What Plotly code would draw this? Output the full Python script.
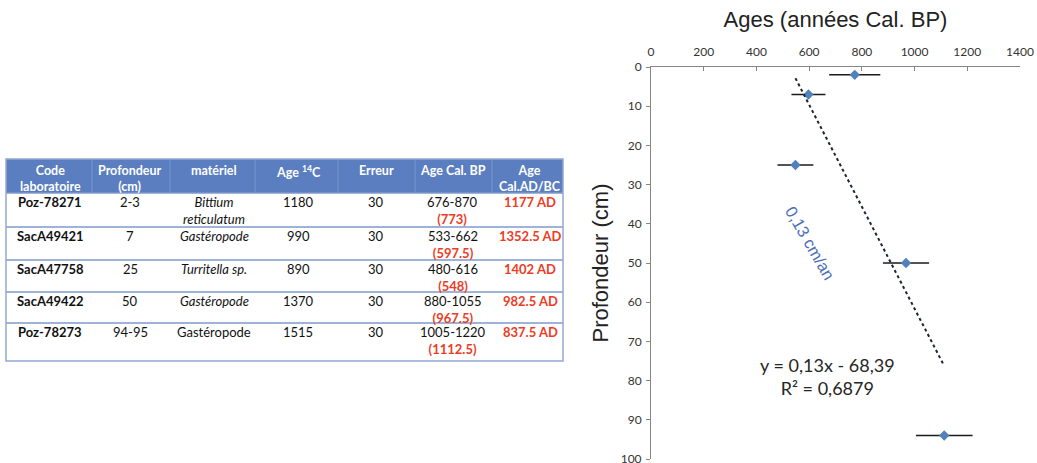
import numpy as np
import plotly.graph_objects as go

# ---------------- data ----------------
codes = ["Poz-78271", "SacA49421", "SacA47758", "SacA49422", "Poz-78273"]
profondeur_label = ["2-3", "7", "25", "50", "94-95"]
depth = [2, 7, 25, 50, 94]
materiel = ["Bittium<br>reticulatum", "Gastéropode", "Turritella sp.", "Gastéropode", "Gastéropode"]
materiel_italic = [True, True, True, True, False]
age14c = [1180, 990, 890, 1370, 1515]
erreur = [30, 30, 30, 30, 30]
cal_min = [676, 533, 480, 880, 1005]
cal_max = [870, 662, 616, 1055, 1220]
cal_mid = [773, 597.5, 548, 967.5, 1112.5]
cal_mid_label = ["773", "597.5", "548", "967.5", "1112.5"]
age_ad = ["1177 AD", "1352.5 AD", "1402 AD", "982.5 AD", "837.5 AD"]
headers = ["Code<br>laboratoire", "Profondeur<br>(cm)", "matériel", "Age <sup>14</sup>C",
           "Erreur", "Age Cal. BP", "Age<br>Cal.AD/BC"]

RED = "#EE3B24"
BLUE = "#4F81BD"
W, H = 1037, 463

# ---------------- table layout (pixels) ----------------
tbl_left, tbl_right = 6, 563
row_edges = [159, 193, 227, 260, 292, 323, 361]     # header + 5 rows
col_edges = [6, 92, 170, 255, 338, 415, 492, 563]
col_centers = [50, 130, 214, 298, 376, 453, 530]

X = lambda p: p / W
Y = lambda p: 1 - p / H

fig = go.Figure()

# ---------------- scatter with error bars ----------------
fig.add_trace(go.Scatter(
    x=cal_mid, y=depth, mode="markers",
    marker=dict(symbol="diamond", size=8, color=BLUE),
    error_x=dict(type="data", symmetric=False,
                 array=[b - m for b, m in zip(cal_max, cal_mid)],
                 arrayminus=[m - a for a, m in zip(cal_min, cal_mid)],
                 color="#1a1a1a", thickness=1.5, width=0),
    showlegend=False, hoverinfo="x+y",
))

# linear trendline (depth vs age)
slope, intercept = np.polyfit(cal_mid, depth, 1)
r2 = np.corrcoef(cal_mid, depth)[0, 1] ** 2
tx = np.array([min(cal_mid), max(cal_mid)])
fig.add_trace(go.Scatter(
    x=tx, y=slope * tx + intercept, mode="lines",
    line=dict(color="#1c2333", width=2, dash="dot"),
    showlegend=False, hoverinfo="skip",
))

# ---------------- table built from the lists ----------------
shapes = []
annotations = []
FONT_T = "Lato, Open Sans, sans-serif"

# header background
shapes.append(dict(type="rect", xref="paper", yref="paper", layer="below",
                   x0=X(tbl_left), x1=X(tbl_right), y0=Y(row_edges[1]), y1=Y(row_edges[0]),
                   fillcolor="#5A7EBF", line=dict(width=0)))
# faint header column separators
for ce in col_edges[1:-1]:
    shapes.append(dict(type="line", xref="paper", yref="paper",
                       x0=X(ce), x1=X(ce), y0=Y(row_edges[1]), y1=Y(row_edges[0]),
                       line=dict(color="#7698D0", width=1)))
# row separators
for re_ in row_edges[1:-1]:
    shapes.append(dict(type="line", xref="paper", yref="paper",
                       x0=X(tbl_left), x1=X(tbl_right), y0=Y(re_), y1=Y(re_),
                       line=dict(color="#7F9ACB", width=1.3)))
# outer frame
shapes.append(dict(type="rect", xref="paper", yref="paper",
                   x0=X(tbl_left), x1=X(tbl_right), y0=Y(row_edges[-1]), y1=Y(row_edges[0]),
                   line=dict(color="#94A8D0", width=1.5)))

# header text
for h, cx in zip(headers, col_centers):
    annotations.append(dict(xref="paper", yref="paper", x=X(cx), y=Y(row_edges[0] + 2),
                            xanchor="center", yanchor="top", showarrow=False, align="center",
                            text=f"<b>{h}</b>",
                            font=dict(family=FONT_T, size=12.5, color="white")))

# body text
col_code = [f"<b>{c}</b>" for c in codes]
col_mat = [f"<i>{m}</i>" if it else m for m, it in zip(materiel, materiel_italic)]
col_cal = [f"{a}-{b}<br><b><span style='color:{RED}'>({m})</span></b>"
           for a, b, m in zip(cal_min, cal_max, cal_mid_label)]
col_ad = [f"<b><span style='color:{RED}'>{t}</span></b>" for t in age_ad]
columns = [col_code, profondeur_label, col_mat, [str(v) for v in age14c],
           [str(v) for v in erreur], col_cal, col_ad]

for ci, (col, cx) in enumerate(zip(columns, col_centers)):
    for ri, val in enumerate(col):
        annotations.append(dict(xref="paper", yref="paper", x=X(cx), y=Y(row_edges[ri + 1] - 1),
                                xanchor="center", yanchor="top", showarrow=False, align="center",
                                text=val, font=dict(family=FONT_T, size=13, color="#111111")))

# chart annotations
annotations.append(dict(x=603, y=45, xref="x", yref="y", text="0,13 cm/an", showarrow=False,
                        textangle=60,
                        font=dict(family="Liberation Sans, Arial, sans-serif", size=16.5, color="#4A6DB8")))
annotations.append(dict(x=668, y=79, xref="x", yref="y",
                        text=(f"y = {slope:.2f}x - {abs(intercept):.2f}".replace(".", ",")
                              + "<br>R² = " + f"{r2:.4f}".replace(".", ",")),
                        showarrow=False, align="center",
                        font=dict(family=FONT_T, size=18, color="#262626")))

fig.update_layout(
    width=W, height=H,
    margin=dict(l=0, r=0, t=0, b=0),
    paper_bgcolor="white", plot_bgcolor="white",
    showlegend=False,
    xaxis=dict(
        domain=[651 / W, 1020 / W], side="top",
        range=[0, 1400], dtick=200, tick0=0,
        showline=True, linecolor="#868686", linewidth=1,
        ticks="inside", ticklen=4, tickcolor="#868686",
        ticklabelstandoff=5, ticklabeloverflow="allow",
        showgrid=False, zeroline=False,
        tickfont=dict(family=FONT_T, size=12, color="#333333"),
        title=dict(text="Ages (années Cal. BP)", standoff=10,
                   font=dict(family="Liberation Sans, Arial, sans-serif", size=22, color="#222222")),
        automargin=False,
    ),
    yaxis=dict(
        domain=[1 - 459 / H, 1 - 67 / H],
        range=[100, 0], dtick=10, tick0=0,
        showline=True, linecolor="#868686", linewidth=1,
        ticks="outside", ticklen=4, tickcolor="#868686",
        ticklabelstandoff=2, ticklabeloverflow="allow",
        showgrid=False, zeroline=False,
        tickfont=dict(family=FONT_T, size=12, color="#333333"),
        title=dict(text="Profondeur (cm)", standoff=6,
                   font=dict(family="Liberation Sans, Arial, sans-serif", size=22, color="#222222")),
        automargin=False,
    ),
    shapes=shapes,
    annotations=annotations,
)

fig.write_html("out.html", config={"displayModeBar": False},
               post_script="document.body.style.margin='0px';")
